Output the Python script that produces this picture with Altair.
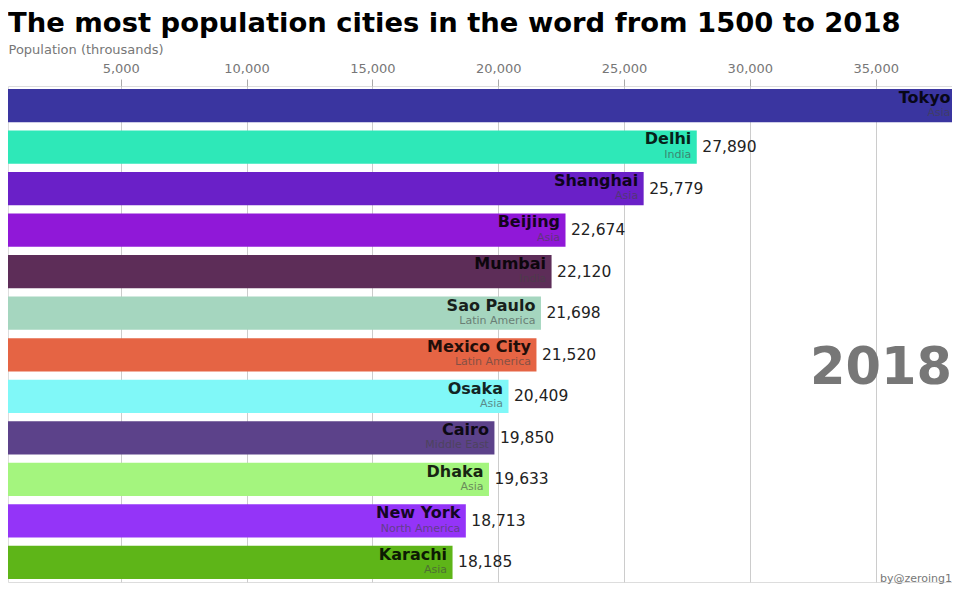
import altair as alt
import pandas as pd

# ---- data (year 2018, thousands) ----
cities = ["Tokyo", "Delhi", "Shanghai", "Beijing", "Mumbai", "Sao Paulo",
          "Mexico City", "Osaka", "Cairo", "Dhaka", "New York", "Karachi"]
regions = ["Asia", "India", "Asia", "Asia", "India", "Latin America",
           "Latin America", "Asia", "Middle East", "Asia", "North America", "Asia"]
values = [38194, 27890, 25779, 22674, 22120, 21698,
          21520, 20409, 19850, 19633, 18713, 18185]
bar_colors = ["#3a35a0", "#2ee8b8", "#6a20c8", "#9018d8", "#5d2d58", "#a5d6bf",
              "#e56444", "#80f8f8", "#5c428a", "#a4f57e", "#9434f8", "#5eb518"]
tick_values = [5000, 10000, 15000, 20000, 25000, 30000, 35000]
year = "2018"
credit = "by@zeroing1"
title_text = "The most population cities in the word from 1500 to 2018"
axis_title = "Population (throusands)"

df = pd.DataFrame({"city": cities, "region": regions, "value": values})
df["label"] = df["value"].map(lambda v: f"{v:,}")

W, H = 944, 496
FONT = "DejaVu Sans"
X_MIN, X_MAX = 520, 38032

x_scale = alt.Scale(domain=[X_MIN, X_MAX], nice=False, zero=False)
y_scale = alt.Scale(paddingInner=0.2, paddingOuter=0.07)
y_enc = alt.Y("city:N", sort=cities, scale=y_scale, axis=None)

base = alt.Chart(df)

bars = base.mark_bar(clip=True).encode(
    x=alt.X("value:Q", scale=x_scale,
            axis=alt.Axis(values=tick_values, format=",d", orient="top",
                          title=axis_title, titleX=0, titleY=-32.5,
                          titleAnchor="start", titleAlign="left",
                          titleBaseline="alphabetic", titleFont=FONT,
                          titleFontSize=13, titleFontWeight="normal",
                          titleColor="#777777",
                          labelFont=FONT, labelFontSize=13, labelColor="#777777",
                          labelPadding=4, tickSize=7, tickColor="#aaaaaa",
                          domain=False, grid=True, gridColor="#cccccc",
                          gridWidth=1)),
    x2=alt.datum(0),
    y=y_enc,
    color=alt.Color("city:N", scale=alt.Scale(domain=cities, range=bar_colors),
                    legend=None),
)

names = base.mark_text(align="right", baseline="alphabetic", dx=-5.5, dy=-2.7,
                       font=FONT, fontSize=16, fontWeight="bold",
                       color="#000000", opacity=0.85).encode(
    x=alt.X("value:Q", scale=x_scale), y=y_enc, text="city:N")

regs = base.mark_text(align="right", baseline="alphabetic", dx=-5.5, dy=10.6,
                      font=FONT, fontSize=11, color="#444444",
                      opacity=0.6).encode(
    x=alt.X("value:Q", scale=x_scale), y=y_enc, text="region:N")

# value labels; the leader's label lies beyond the visible range, as in the reference
vals = base.transform_filter(alt.datum.value < X_MAX - 300).mark_text(
    align="left", baseline="middle", dx=5.5, clip=True,
    font=FONT, fontSize=15.5, color="#222222").encode(
    x=alt.X("value:Q", scale=x_scale), y=y_enc, text="label:N")

year_txt = alt.Chart(pd.DataFrame({"t": [year]})).mark_text(
    align="right", baseline="alphabetic", font=FONT, fontSize=51,
    fontWeight="bold", color="#777777").encode(
    x=alt.value(W), y=alt.value(298), text="t:N")

credit_txt = alt.Chart(pd.DataFrame({"t": [credit]})).mark_text(
    align="right", baseline="alphabetic", font=FONT, fontSize=11,
    color="#777777").encode(
    x=alt.value(W), y=alt.value(H), text="t:N")

chart = alt.layer(bars, names, regs, vals, year_txt, credit_txt).properties(
    width=W, height=H,
    title=alt.TitleParams(text=title_text, anchor="start", frame="group",
                          dx=0, offset=6, font=FONT, fontSize=27.4,
                          fontWeight="bold", color="#000000"),
    autosize=alt.AutoSizeParams(type="none"),
    padding={"left": 0, "top": 78, "right": 0, "bottom": 4},
).configure_view(stroke=None).configure(font=FONT)

chart.save("out.html", embed_options={"renderer": "svg", "actions": False})
